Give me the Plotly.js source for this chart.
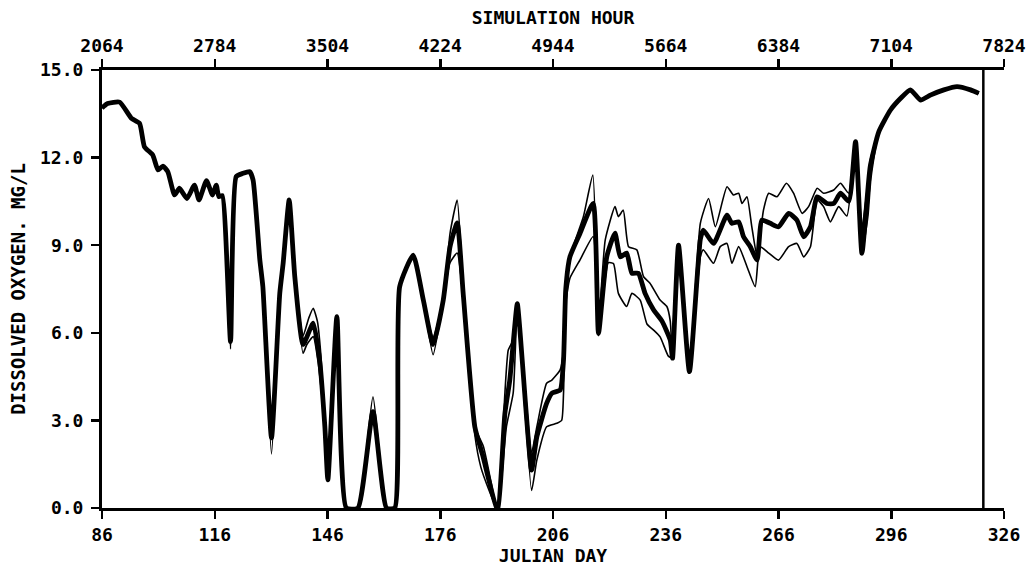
<!DOCTYPE html>
<html>
<head>
<meta charset="utf-8">
<script src="https://cdn.plot.ly/plotly-3.0.1.min.js"></script>
<style>html,body{margin:0;padding:0;background:#fff;}#chart{width:1034px;height:575px;}</style>
</head>
<body>
<div id="chart"></div>
<script>
// ---- data ----
const dayTicks = [86, 116, 146, 176, 206, 236, 266, 296, 326];
const hourTicks = [2064, 2784, 3504, 4224, 4944, 5664, 6384, 7104, 7824];
const doTicks = [0, 3, 6, 9, 12, 15];
const simEndDay = 320.5;

const midDays = [86.0,87.5,90.7,93.8,96.0,97.3,99.5,100.9,102.2,103.5,105.3,106.6,108.6,110.6,111.8,113.8,115.4,116.4,117.1,118.0,120.2,121.7,123.5,125.3,126.2,128.0,128.8,131.1,133.3,134.2,135.8,137.3,139.5,142.2,143.9,145.3,146.1,148.5,151.0,154.1,158.1,161.7,163.9,165.2,168.8,171.5,174.1,176.8,178.6,180.5,182.1,185.2,187.3,191.0,191.4,193.2,194.5,195.8,196.5,200.3,201.7,204.3,205.7,207.9,208.8,209.4,210.5,213.2,216.7,218.1,220.3,222.5,223.9,225.6,227.0,228.7,230.5,232.7,235.0,237.2,237.8,239.4,242.3,245.2,246.0,248.7,252.3,253.6,255.4,256.7,258.5,260.3,261.6,263.8,266.0,268.7,270.9,272.7,274.5,276.3,278.9,280.7,282.5,284.7,286.5,288.2,290.4,292.7,295.8,298.5,301.1,303.8,306.4,310.0,313.5,317.1,319.3];
const midDO = [13.7,13.85,13.9,13.35,13.17,12.37,12.09,11.58,11.71,11.52,10.72,10.95,10.6,11.06,10.55,11.21,10.72,11.06,10.66,10.7,5.7,11.35,11.46,11.52,11.23,8.49,7.58,2.4,7.35,8.38,10.55,7.92,5.6,6.33,5.07,2.78,0.96,6.55,0,0,3.3,0,0,7.58,8.66,7.12,5.6,7.12,8.95,9.76,7.35,2.78,1.8,0,0,3.24,4.38,6.2,7.0,1.3,2.44,3.58,3.93,4.04,5.07,7.5,8.6,9.41,10.43,5.98,8.6,9.41,8.6,8.73,8.04,8.04,7.35,6.8,6.4,5.75,5.13,9.0,4.67,9.2,9.52,9.06,10.03,9.75,9.8,9.29,8.95,8.49,9.86,9.75,9.63,10.09,9.86,9.29,9.63,10.66,10.43,10.43,10.78,10.5,12.55,8.72,11.69,12.89,13.63,14.03,14.32,13.97,14.14,14.32,14.43,14.32,14.2];

const upperDays = [86.0,87.5,90.7,93.8,96.0,97.3,99.5,100.9,102.2,103.5,105.3,106.6,108.6,110.6,111.8,113.8,115.4,116.4,117.1,118.0,120.2,121.7,123.5,125.3,126.2,128.0,128.8,131.1,133.3,134.2,135.8,137.3,139.5,141.0,142.2,143.3,144.2,145.3,146.1,148.5,151.0,154.1,158.1,161.7,163.9,165.2,168.8,171.5,174.1,176.8,178.6,180.5,182.1,185.2,187.5,189.5,191.0,191.4,193.2,194.1,195.4,196.5,200.3,201.7,204.3,205.7,207.9,208.8,209.2,211.4,214.1,216.6,218.1,219.9,222.5,223.4,224.7,226.1,228.3,230.1,231.8,234.5,236.3,237.2,237.8,239.4,242.3,245.2,247.4,249.2,252.3,254.0,255.4,256.3,257.6,258.9,260.3,262.0,263.4,265.6,268.1,270.0,272.3,274.0,276.3,278.0,280.7,282.5,284.7,286.5,288.2,289.5,290.4,292.7,295.8,298.5,301.1,303.8,306.4,310.0,313.5,317.1,319.3];
const upperDO = [13.7,13.85,13.9,13.35,13.17,12.37,12.09,11.58,11.71,11.52,10.72,10.95,10.6,11.06,10.55,11.21,10.72,11.06,10.66,10.7,5.9,11.35,11.46,11.52,11.23,8.49,7.58,2.9,7.35,8.38,10.55,7.92,5.9,6.5,6.84,6.4,5.3,2.78,0.96,6.55,0,0,3.81,0,0,7.58,8.66,7.12,5.85,7.12,9.4,10.55,7.5,2.78,2.1,0.9,0,0,3.93,5.41,5.75,7.0,1.9,2.78,4.27,4.38,4.73,5.41,7.58,8.95,9.98,11.4,6.3,9.18,10.32,9.98,10.2,8.95,8.84,7.92,7.7,7.12,6.9,6.4,5.13,9.0,4.67,9.75,10.6,9.63,11.0,10.72,10.78,10.43,10.66,9.63,8.6,10.2,10.78,10.66,11.12,10.78,10.09,10.32,10.95,10.78,10.89,11.12,10.78,12.55,9.6,10.8,11.9,12.89,13.63,14.03,14.32,13.97,14.14,14.32,14.43,14.32,14.2];

const lowerDays = [86.0,87.5,90.7,93.8,96.0,97.3,99.5,100.9,102.2,103.5,105.3,106.6,108.6,110.6,111.8,113.8,115.4,116.4,117.1,118.0,120.2,121.7,123.5,125.3,126.2,128.0,128.8,131.1,133.3,134.2,135.8,137.3,139.5,140.5,142.2,143.5,145.3,146.1,148.5,151.0,154.1,158.1,161.7,163.9,165.2,168.8,171.5,174.1,176.8,178.6,180.5,182.1,185.2,186.8,189.0,191.0,191.4,193.6,195.4,196.0,196.5,200.3,201.7,204.3,207.0,208.3,208.8,209.4,210.5,213.2,216.7,218.1,220.7,222.1,223.4,225.6,227.0,229.2,231.0,232.7,234.5,236.7,237.8,239.4,242.3,245.2,246.0,248.7,250.5,252.3,253.6,255.4,257.6,259.8,261.1,263.4,266.0,268.7,270.9,272.7,274.5,276.3,278.0,279.8,282.0,284.2,286.5,288.2,289.8,290.6,292.7,295.8,298.5,301.1,303.8,306.4,310.0,313.5,317.1,319.3];
const lowerDO = [13.7,13.85,13.9,13.35,13.17,12.37,12.09,11.58,11.71,11.52,10.72,10.95,10.6,11.06,10.55,11.21,10.72,11.06,10.66,10.7,5.45,11.35,11.46,11.52,11.23,8.49,7.58,1.85,7.35,8.38,10.55,7.92,5.3,5.6,5.87,5.0,2.78,0.96,6.55,0,0,3.0,0,0,7.58,8.66,7.12,5.25,7.12,8.4,8.73,7.2,2.5,1.4,0.6,0,0,2.78,3.93,5.5,7.0,0.6,1.64,2.78,2.9,3.0,3.93,7.0,7.87,8.5,9.3,5.9,8.4,8.37,7.35,6.9,7.35,7.12,6.3,6.1,5.86,5.2,5.13,9.0,4.67,8.6,8.84,8.38,8.95,9.06,8.38,8.95,8.27,7.58,8.95,8.73,8.49,8.95,9.06,8.6,8.95,10.55,10.32,9.8,10.32,10.0,12.55,8.72,10.0,11.3,12.89,13.63,14.03,14.32,13.97,14.14,14.32,14.43,14.32,14.2];

// ---- chart ----
const monoFont = {family: '"DejaVu Sans Mono", monospace', size: 18, color: '#000', weight: 'bold'};
const hoursPerDay = 24;
const curve = {shape: 'spline', smoothing: 0.5};

const traces = [
  {x: upperDays, y: upperDO, type: 'scatter', mode: 'lines', line: Object.assign({color: '#000', width: 1.6}, curve), showlegend: false, hoverinfo: 'skip'},
  {x: lowerDays, y: lowerDO, type: 'scatter', mode: 'lines', line: Object.assign({color: '#000', width: 1.6}, curve), showlegend: false, hoverinfo: 'skip'},
  {x: midDays, y: midDO, type: 'scatter', mode: 'lines', line: Object.assign({color: '#000', width: 4.8}, curve), showlegend: false, hoverinfo: 'skip'},
  {x: midDays.map(d => d * hoursPerDay), y: midDO, xaxis: 'x2', type: 'scatter', mode: 'lines', line: {color: 'rgba(0,0,0,0)', width: 0}, showlegend: false, hoverinfo: 'skip'}
];

const layout = {
  width: 1034, height: 575,
  margin: {l: 102, r: 30, t: 70, b: 67},
  paper_bgcolor: '#fff', plot_bgcolor: '#fff',
  font: monoFont,
  xaxis: {
    range: [86, 326], tickmode: 'array', tickvals: dayTicks, ticktext: dayTicks.map(String),
    showline: true, linecolor: '#000', linewidth: 3, ticks: 'outside', ticklen: 8, tickwidth: 2.5, tickcolor: '#000',
    showgrid: false, zeroline: false, tickfont: monoFont, ticklabelstandoff: 0,
    title: {text: 'JULIAN DAY', font: monoFont, standoff: 6}
  },
  xaxis2: {
    overlaying: 'x', side: 'top', anchor: 'y',
    range: [86 * hoursPerDay, 326 * hoursPerDay], tickmode: 'array', tickvals: hourTicks, ticktext: hourTicks.map(String),
    showline: true, linecolor: '#000', linewidth: 3, ticks: 'outside', ticklen: 8, tickwidth: 2.5, tickcolor: '#000',
    showgrid: false, zeroline: false, tickfont: monoFont, ticklabelstandoff: 0,
    title: {text: 'SIMULATION HOUR', font: monoFont, standoff: 6}
  },
  yaxis: {
    range: [0, 15], tickmode: 'array', tickvals: doTicks, ticktext: doTicks.map(v => v.toFixed(1)),
    showline: true, linecolor: '#000', linewidth: 3, ticks: 'outside', ticklen: 8, tickwidth: 2.5, tickcolor: '#000',
    showgrid: false, zeroline: false, tickfont: monoFont, ticklabelstandoff: 4,
    title: {text: 'DISSOLVED OXYGEN. MG/L', font: {family: monoFont.family, size: 19, color: '#000', weight: 'bold'}, standoff: 10}
  },
  shapes: [
    {type: 'line', xref: 'x', yref: 'paper', x0: simEndDay, x1: simEndDay, y0: 0, y1: 1, line: {color: '#000', width: 2.5}}
  ]
};

Plotly.newPlot('chart', traces, layout, {displayModeBar: false, staticPlot: true});
</script>
</body>
</html>
